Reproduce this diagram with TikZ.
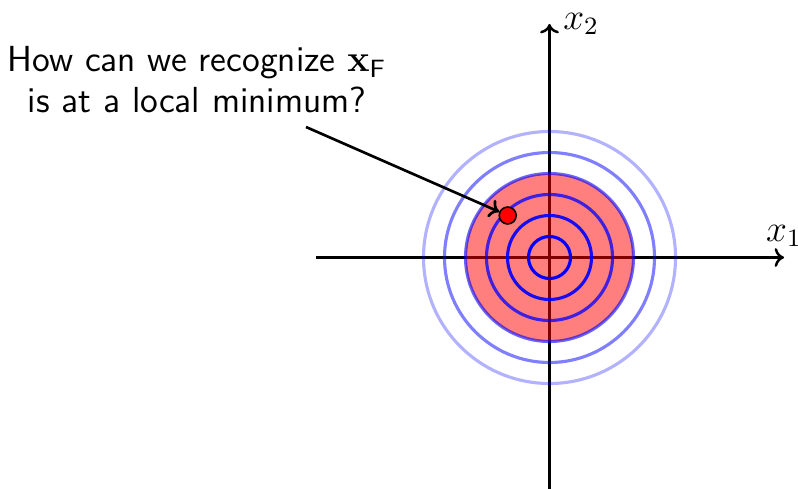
\documentclass[tikz,border=0pt]{standalone}
\usetikzlibrary{arrows.meta}
\begin{document}
\begin{tikzpicture}[x=0.32pt,y=-0.32pt,
  axis/.style={line width=0.8pt,-{To[length=3pt,width=6pt]}},
  ring/.style={blue,line width=1pt},
  pointer/.style={line width=0.85pt,-{To[length=3pt,width=6pt]}},
  lbl/.style={font=\sffamily\fontsize{11.6}{12.9}\selectfont,align=center,inner sep=0pt}]
\useasboundingbox (0,0) rectangle (798,488);
\coordinate (o) at (549.5,257.5);
\coordinate (xl) at (316,257.5);
\coordinate (xr) at (784,257.5);
\coordinate (yb) at (549.5,500);
\coordinate (yt) at (549.5,24);
\draw[axis] (xl) -- (xr) node[above,inner sep=1pt,yshift=2pt,font=\large] (x1) {$x_1$};
\draw[axis] (yb) -- (yt) node[right,inner sep=4pt,font=\large] (x2) {$x_2$};
\fill[red,opacity=0.5] (o) circle[radius=84];
\draw[ring] (o) circle[radius=21];
\draw[ring,opacity=0.9] (o) circle[radius=42];
\draw[ring,opacity=0.75] (o) circle[radius=63];
\draw[ring,opacity=0.6] (o) circle[radius=84];
\draw[ring,opacity=0.5] (o) circle[radius=105];
\draw[ring,opacity=0.3] (o) circle[radius=126];
\node[circle,draw=black,fill=red,line width=0.5pt,minimum size=17*0.32pt,inner sep=0pt] (xf) at (507.7,215.5) {};
\node[lbl,anchor=base] (q) at (197,112) {How can we recognize $\mathbf{x}_{\mathsf{F}}$\\is at a local minimum?};
\coordinate (ps) at (306,127);
\draw[pointer] (ps) -- (xf);
\end{tikzpicture}
\end{document}
